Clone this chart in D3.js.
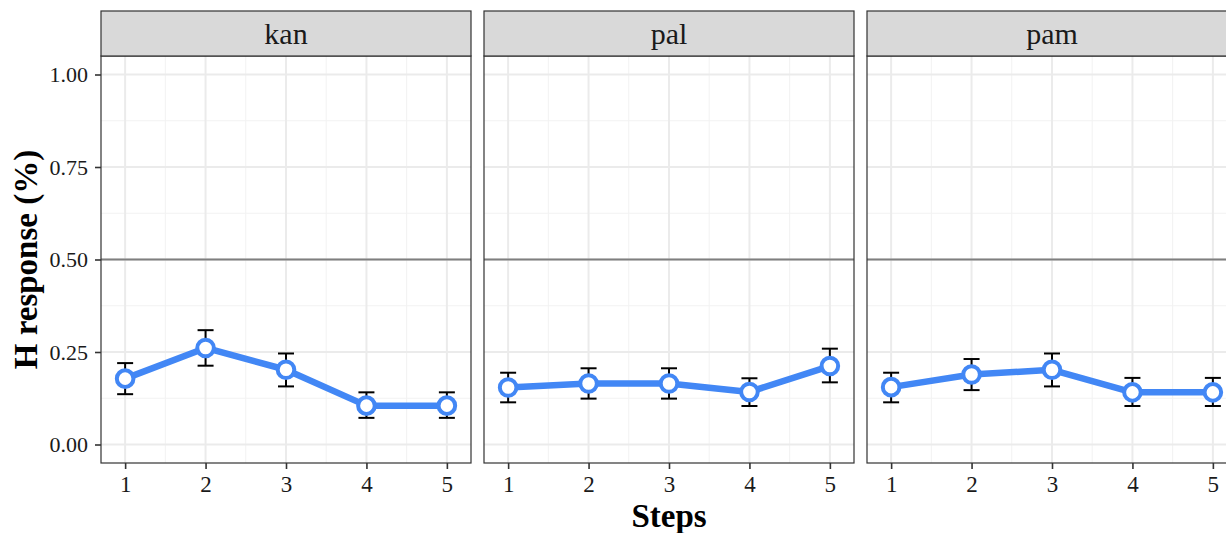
<!DOCTYPE html>
<html>
<head>
<meta charset="utf-8">
<script src="https://cdn.jsdelivr.net/npm/d3@7"></script>
<style>
  body { margin: 0; background: #fff; }
  svg { font-family: 'Liberation Serif', 'DejaVu Serif', serif; }
</style>
</head>
<body>
<div id="chart"></div>
<script>
// data
let panels = ['kan', 'pal', 'pam']
let steps = [1, 2, 3, 4, 5]
let kanMean = [0.178, 0.261, 0.202, 0.105, 0.105]
let kanLo = [0.136, 0.213, 0.157, 0.072, 0.072]
let kanHi = [0.220, 0.309, 0.246, 0.141, 0.141]
let palMean = [0.154, 0.165, 0.165, 0.142, 0.212]
let palLo = [0.114, 0.124, 0.124, 0.104, 0.168]
let palHi = [0.194, 0.206, 0.206, 0.179, 0.259]
let pamMean = [0.155, 0.189, 0.202, 0.141, 0.141]
let pamLo = [0.114, 0.147, 0.157, 0.104, 0.104]
let pamHi = [0.194, 0.231, 0.246, 0.180, 0.180]
let yTicks = [0, 0.25, 0.5, 0.75, 1]
let refLine = 0.5

let series = {
    kan: { mean: kanMean, lo: kanLo, hi: kanHi },
    pal: { mean: palMean, lo: palLo, hi: palHi },
    pam: { mean: pamMean, lo: pamLo, hi: pamHi }
}

let w = 1226,
    h = 533
let panelLeft = [101, 484, 867],
    panelW = 370,
    stripTop = 11,
    stripH = 45,
    plotTop = 56,
    plotBottom = 463

let svg = d3.select('#chart')
    .append('svg')
    .attr('width', w)
    .attr('height', h)

let yScale = d3.scaleLinear()
    .domain([-0.05, 1.05])
    .range([plotBottom, plotTop])

let blue = '#4287f5'

panels.forEach((p, pi) => {
    let x0 = panelLeft[pi]
    let xScale = d3.scaleLinear()
        .domain([0.7, 5.3])
        .range([x0, x0 + panelW])
    let g = svg.append('g')
    let d = steps.map((s, i) => ({
        step: s,
        mean: series[p].mean[i],
        lo: series[p].lo[i],
        hi: series[p].hi[i]
    }))

    // background grid
    let minorX = [1.5, 2.5, 3.5, 4.5]
    let minorY = [0.125, 0.375, 0.625, 0.875]
    g.selectAll('.minx').data(minorX).enter().append('line')
        .attr('x1', v => xScale(v)).attr('x2', v => xScale(v))
        .attr('y1', plotTop).attr('y2', plotBottom)
        .attr('stroke', '#f2f2f2').attr('stroke-width', 1)
    g.selectAll('.miny').data(minorY).enter().append('line')
        .attr('x1', x0).attr('x2', x0 + panelW)
        .attr('y1', v => yScale(v)).attr('y2', v => yScale(v))
        .attr('stroke', '#f2f2f2').attr('stroke-width', 1)
    g.selectAll('.majx').data(steps).enter().append('line')
        .attr('x1', v => xScale(v)).attr('x2', v => xScale(v))
        .attr('y1', plotTop).attr('y2', plotBottom)
        .attr('stroke', '#ebebeb').attr('stroke-width', 2)
    g.selectAll('.majy').data(yTicks).enter().append('line')
        .attr('x1', x0).attr('x2', x0 + panelW)
        .attr('y1', v => yScale(v)).attr('y2', v => yScale(v))
        .attr('stroke', '#ebebeb').attr('stroke-width', 2)

    // reference line
    g.append('line')
        .attr('x1', x0).attr('x2', x0 + panelW)
        .attr('y1', yScale(refLine)).attr('y2', yScale(refLine))
        .attr('stroke', '#7f7f7f').attr('stroke-width', 2.2)

    // error bars
    let eb = g.selectAll('.eb').data(d).enter().append('g')
        .attr('stroke', '#000').attr('stroke-width', 2)
    eb.append('line')
        .attr('x1', e => xScale(e.step)).attr('x2', e => xScale(e.step))
        .attr('y1', e => yScale(e.lo)).attr('y2', e => yScale(e.hi))
    eb.append('line')
        .attr('x1', e => xScale(e.step) - 8).attr('x2', e => xScale(e.step) + 8)
        .attr('y1', e => yScale(e.lo)).attr('y2', e => yScale(e.lo))
    eb.append('line')
        .attr('x1', e => xScale(e.step) - 8).attr('x2', e => xScale(e.step) + 8)
        .attr('y1', e => yScale(e.hi)).attr('y2', e => yScale(e.hi))

    // line
    let line = d3.line()
        .x(e => xScale(e.step))
        .y(e => yScale(e.mean))
    g.append('path')
        .attr('d', line(d))
        .attr('fill', 'none')
        .attr('stroke', blue)
        .attr('stroke-width', 6.5)
        .attr('stroke-linejoin', 'round')

    g.selectAll('.pt').data(d).enter().append('circle')
        .attr('cx', e => xScale(e.step))
        .attr('cy', e => yScale(e.mean))
        .attr('r', 8.3)
        .attr('fill', '#fff')
        .attr('stroke', blue)
        .attr('stroke-width', 4)

    // panel border
    g.append('rect')
        .attr('x', x0).attr('y', plotTop)
        .attr('width', panelW).attr('height', plotBottom - plotTop)
        .attr('fill', 'none').attr('stroke', '#333').attr('stroke-width', 1.2)

    // strip
    g.append('rect')
        .attr('x', x0).attr('y', stripTop)
        .attr('width', panelW).attr('height', stripH)
        .attr('fill', '#d9d9d9').attr('stroke', '#333').attr('stroke-width', 1.2)
    g.append('text')
        .text(p)
        .attr('x', x0 + panelW / 2)
        .attr('y', 44)
        .attr('text-anchor', 'middle')
        .attr('font-size', 30)
        .attr('fill', '#1a1a1a')

    // x axis
    let xAxis = d3.axisBottom(xScale)
        .tickValues(steps)
        .tickSize(6)
        .tickPadding(7)
        .tickFormat(d3.format('d'))
    let ax = g.append('g')
        .attr('transform', `translate(0,${plotBottom})`)
        .call(xAxis)
    ax.select('.domain').remove()
    ax.selectAll('line').attr('stroke', '#333').attr('stroke-width', 1.6)
    ax.selectAll('text')
        .attr('font-size', 23)
        .attr('font-family', "'Liberation Serif', serif")
        .attr('fill', '#1a1a1a')
})

// y axis on the first panel
let yAxis = d3.axisLeft(yScale)
    .tickValues(yTicks)
    .tickSize(6)
    .tickPadding(7)
    .tickFormat(d3.format('.2f'))
let ay = svg.append('g')
    .attr('transform', `translate(${panelLeft[0]},0)`)
    .call(yAxis)
ay.select('.domain').remove()
ay.selectAll('line').attr('stroke', '#333').attr('stroke-width', 1.6)
ay.selectAll('text')
    .attr('font-size', 22)
    .attr('font-family', "'Liberation Serif', serif")
    .attr('fill', '#1a1a1a')

svg.append('text')
    .text('Steps')
    .attr('x', panelLeft[1] + panelW / 2)
    .attr('y', 527)
    .attr('text-anchor', 'middle')
    .attr('font-size', 33)
    .attr('font-weight', 'bold')

svg.append('text')
    .text('H response (%)')
    .attr('transform', `translate(37,${yScale(0.5)}) rotate(-90)`)
    .attr('text-anchor', 'middle')
    .attr('font-size', 33)
    .attr('font-weight', 'bold')
</script>
</body>
</html>
